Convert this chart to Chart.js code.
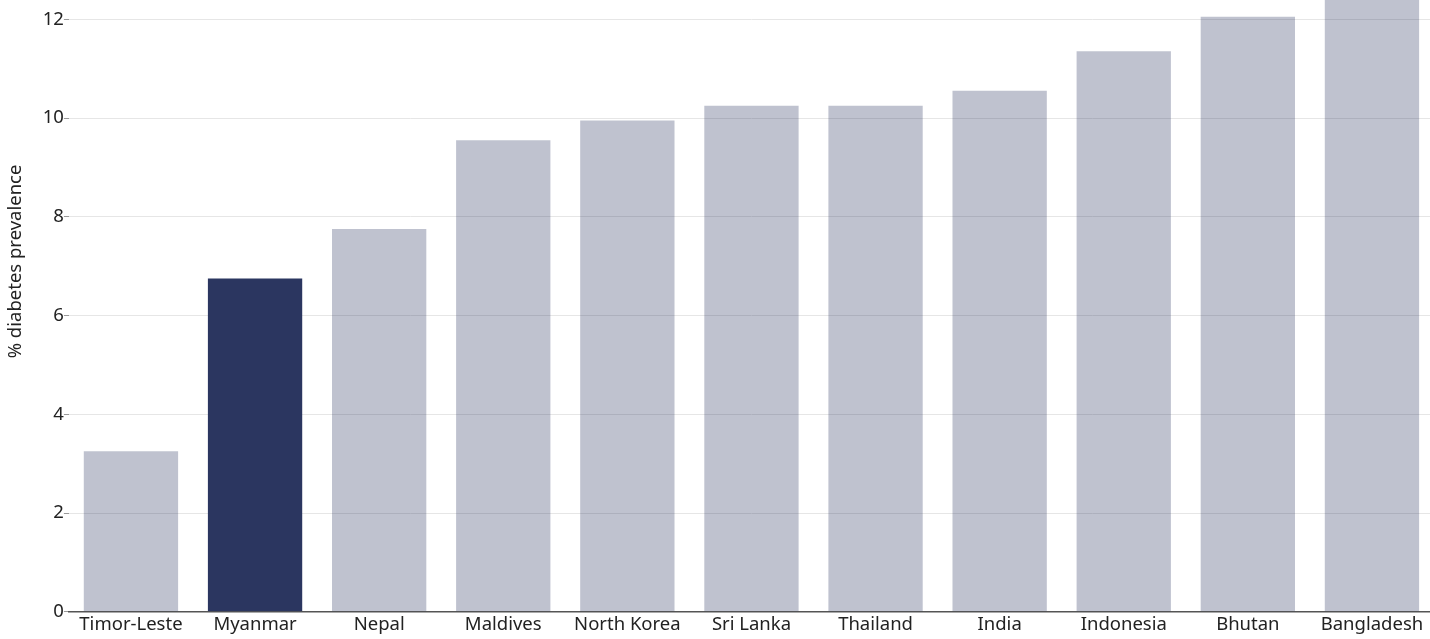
<!DOCTYPE html>
<html>
<head>
<meta charset="utf-8">
<script src="https://cdn.jsdelivr.net/npm/chart.js@4"></script>
<style>
  html, body { margin: 0; padding: 0; background: #fff; overflow: hidden; }
  #wrap { position: absolute; left: 0; top: -100px; width: 1434px; height: 738px; }
</style>
</head>
<body>
<div id="wrap"><canvas id="diabetesChart"></canvas></div>
<script>
  // data
  var countries = ['Timor-Leste', 'Myanmar', 'Nepal', 'Maldives', 'North Korea', 'Sri Lanka',
                   'Thailand', 'India', 'Indonesia', 'Bhutan', 'Bangladesh'];
  var prevalence = [3.25, 6.75, 7.75, 9.55, 9.95, 10.25, 10.25, 10.55, 11.35, 12.05, 12.5];
  var highlight = 'Myanmar';

  var barColors = countries.map(function (c) {
    return c === highlight ? '#2b3660' : 'rgba(42, 54, 96, 0.3)';
  });

  Chart.defaults.font.family = '"Noto Sans", "Open Sans", sans-serif';
  Chart.defaults.font.size = 18.5;
  Chart.defaults.color = '#222';

  var diabetesChart = new Chart(document.getElementById('diabetesChart'), {
    type: 'bar',
    data: {
      labels: countries,
      datasets: [{
        label: '% diabetes prevalence',
        data: prevalence,
        backgroundColor: barColors,
        borderWidth: 0,
        barPercentage: 0.76,
        categoryPercentage: 1
      }]
    },
    options: {
      responsive: true,
      maintainAspectRatio: false,
      animation: false,
      layout: { padding: { left: 5, right: 0, top: 0, bottom: 0 } },
      plugins: {
        legend: { display: false },
        tooltip: { enabled: false }
      },
      scales: {
        x: {
          grid: { display: false, drawTicks: false },
          border: { display: true, color: '#555', width: 1.5 },
          ticks: { padding: 2, maxRotation: 0, autoSkip: false }
        },
        y: {
          min: 0,
          max: 14.19,
          grid: { color: '#e6e6e6', tickLength: 5, tickColor: '#999' },
          border: { display: false },
          ticks: { stepSize: 2, padding: 0 },
          title: { display: true, text: '% diabetes prevalence', padding: { top: 0, bottom: 0 } }
        }
      }
    }
  });
</script>
</body>
</html>
